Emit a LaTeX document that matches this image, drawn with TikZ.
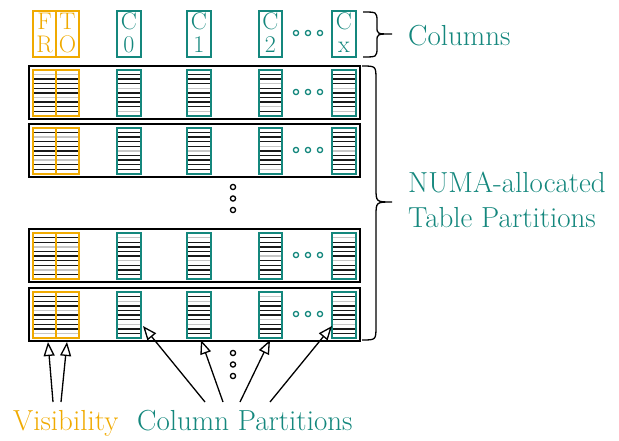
\documentclass[tikz,border=0pt]{standalone}
\usetikzlibrary{arrows.meta}
\definecolor{vis}{RGB}{240,170,0}
\definecolor{col}{RGB}{20,135,125}
\begin{document}
\begin{tikzpicture}[x=1pt,y=-1pt,
  rowbox/.style={draw=black,line width=1.5pt},
  visbox/.style={draw=vis,line width=1.4pt},
  colbox/.style={draw=col,line width=1.4pt},
  stripe/.style={line width=1.4pt},
  hdot/.style={draw=col,line width=1.3pt},
  vdot/.style={draw=black,line width=1.3pt},
  brc/.style={draw=black,line width=1.3pt},
  lbl/.style={font=\fontsize{29}{34}\selectfont,anchor=base west,inner sep=0pt},
  hdr/.style={font=\fontsize{24}{24}\selectfont,inner sep=0pt},
  ptr/.style={-{Triangle[open,length=14pt,width=11pt,line width=1.3pt]},line width=1.3pt}
]
\useasboundingbox (0,0) rectangle (619,441);

% header: visibility columns and data columns
\draw[visbox] (33,11) rectangle (79,57) (56,11) -- (56,57);
\node[hdr,text=vis,anchor=base] (hF) at (44.5,30) {F};
\node[hdr,text=vis,anchor=base] (hR) at (44.5,53) {R};
\node[hdr,text=vis,anchor=base] (hT) at (67.5,30) {T};
\node[hdr,text=vis,anchor=base] (hO) at (67.5,53) {O};
\foreach \xa/\xb/\c in {117/141/0,187/211/1,259/282/2,332/356/x} {
  \draw[colbox] (\xa,11) rectangle (\xb,57);
  \node[hdr,text=col,anchor=base] at ({(\xa+\xb)/2},30) {C};
  \node[hdr,text=col,anchor=base] at ({(\xa+\xb)/2},53) {\c};
}
\foreach \x in {296,308,320} \draw[hdot] (\x,33) circle (2.6pt);

% table partitions
\foreach \T/\off in {66/0,124/1,229/2,288/3} {
  \draw[rowbox] (29,\T) rectangle (360,{\T+53});
  \foreach \xa/\xb in {33/79,117/141,187/211,259/282,332/356} {
    \foreach \k [evaluate=\k as \g using {int(mod(\k*7+\off*3+\xa,5))}] in {1,...,9} {
      \ifnum\g<1
        \draw[stripe,gray!45] (\xa,{\T+4+\k*4.6}) -- (\xb,{\T+4+\k*4.6});
      \else
        \draw[stripe,black!90] (\xa,{\T+4+\k*4.6}) -- (\xb,{\T+4+\k*4.6});
      \fi
    }
  }
  \draw[visbox] (33,{\T+4}) rectangle (79,{\T+50}) (56,{\T+4}) -- (56,{\T+50});
  \foreach \xa/\xb in {117/141,187/211,259/282,332/356}
    \draw[colbox] (\xa,{\T+4}) rectangle (\xb,{\T+50});
  \foreach \x in {296,308,320} \draw[hdot] (\x,{\T+26}) circle (2.6pt);
}

% vertical ellipses
\foreach \y in {187,198.5,210} \draw[vdot] (233,\y) circle (2.6pt);
\foreach \y in {353,364.5,376} \draw[vdot] (233,\y) circle (2.6pt);

% braces
\draw[brc] (363,12) .. controls (377,12) .. (377,22) -- (377,27)
  .. controls (377,34) .. (392,34) .. controls (377,34) .. (377,41)
  -- (377,47) .. controls (377,57) .. (363,57);
\draw[brc] (362,66) .. controls (376,66) .. (376,80) -- (376,188)
  .. controls (376,202) .. (392,202) .. controls (376,202) .. (376,216)
  -- (376,326) .. controls (376,340) .. (362,340);

% labels
\node[lbl,text=col] (cols) at (408,46) {Columns};
\node[lbl,text=col] (numa) at (408,193) {NUMA-allocated};
\node[lbl,text=col] (tparts) at (408,227) {Table Partitions};
\node[lbl,text=vis] (visl) at (13,430) {Visibility};
\node[lbl,text=col] (cparts) at (137,430) {Column Partitions};

% arrow ends
\coordinate (v1s) at (53,402);  \coordinate (v1e) at (48,342);
\coordinate (v2s) at (61,402);  \coordinate (v2e) at (67,342);
\coordinate (c1s) at (205,402); \coordinate (c1e) at (143,326);
\coordinate (c2s) at (223,402); \coordinate (c2e) at (201,340);
\coordinate (c3s) at (240,402); \coordinate (c3e) at (270,340);
\coordinate (c4s) at (270,402); \coordinate (c4e) at (332,326);
\foreach \a in {v1,v2,c1,c2,c3,c4} \draw[ptr] (\a s) -- (\a e);
\end{tikzpicture}
\end{document}
